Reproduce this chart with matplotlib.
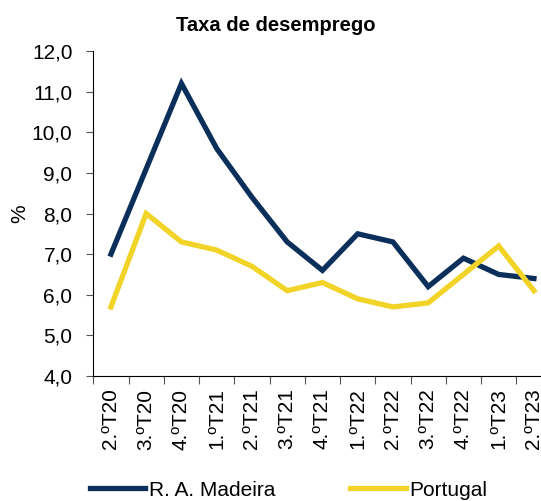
import matplotlib
matplotlib.use("Agg")
import matplotlib.pyplot as plt

# quarters and unemployment rates (%)
quarters = ["2.ºT20", "3.ºT20", "4.ºT20", "1.ºT21", "2.ºT21", "3.ºT21", "4.ºT21",
            "1.ºT22", "2.ºT22", "3.ºT22", "4.ºT22", "1.ºT23", "2.ºT23"]
madeira = [7.0, 9.1, 11.2, 9.6, 8.4, 7.3, 6.6, 7.5, 7.3, 6.2, 6.9, 6.5, 6.4]
portugal = [5.7, 8.0, 7.3, 7.1, 6.7, 6.1, 6.3, 5.9, 5.7, 5.8, 6.5, 7.2, 6.1]
yticks = [4, 5, 6, 7, 8, 9, 10, 11, 12]

plt.rcParams["font.family"] = ["Liberation Sans", "DejaVu Sans"]

fig = plt.figure(figsize=(5.41, 5.01), dpi=100)
ax = fig.add_axes([0.1725, 0.2495, 0.847, 0.6487])

x = range(len(quarters))
ax.plot(x, madeira, color="#0B2F5B", lw=3.8, solid_joinstyle="miter", label="R. A. Madeira")
ax.plot(x, portugal, color="#F2D327", lw=3.8, solid_joinstyle="miter", label="Portugal")

ax.set_xlim(-0.5, len(quarters) - 0.5)
ax.set_ylim(4, 12)
ax.set_yticks(yticks)
ax.set_yticklabels([f"{v:.1f}".replace(".", ",") for v in yticks], fontsize=15)
ax.tick_params(axis="y", length=5, width=0.8, color="#555555", pad=10)

# boundary ticks (major) and centred labels (minor)
ax.set_xticks([i - 0.5 for i in range(len(quarters) + 1)])
ax.set_xticklabels([])
ax.tick_params(axis="x", which="major", length=6, width=0.8, color="#555555")
ax.set_xticks(list(x), minor=True)
ax.set_xticklabels(quarters, minor=True, rotation=90, fontsize=15)
ax.tick_params(axis="x", which="minor", length=0, pad=9)

for s in ["top", "right"]:
    ax.spines[s].set_visible(False)

ax.set_ylabel("%", fontsize=15, labelpad=2)
fig.text(0.51, 0.95, "Taxa de desemprego", ha="center", va="center",
         fontsize=14.5, fontweight="bold")

fig.legend(loc="lower left", bbox_to_anchor=(0.131, -0.035), ncol=2, frameon=False,
           fontsize=15, handlelength=2.65, handletextpad=0.2, columnspacing=3.6)

fig.savefig("out.png", dpi=100)
